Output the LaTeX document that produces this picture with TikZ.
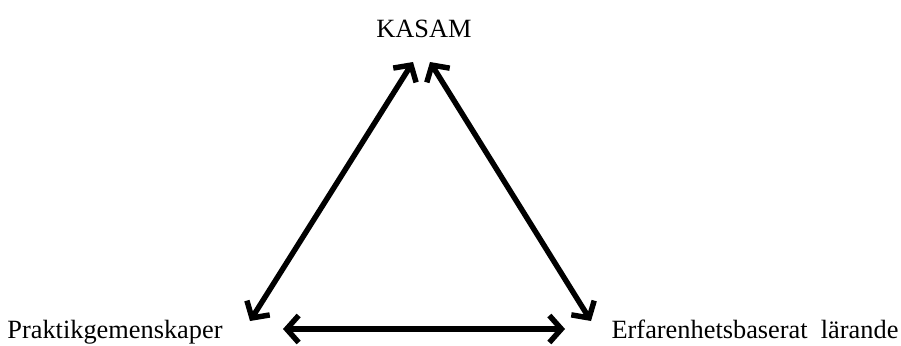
\documentclass[tikz,border=0pt]{standalone}
\usepackage{fontspec}
\setmainfont{Liberation Serif}
\usetikzlibrary{arrows.meta}

\begin{document}
\begin{tikzpicture}[
    x=0.02cm, y=-0.02cm,
    every node/.style={font=\fontsize{15}{18}\selectfont, inner sep=0pt, anchor=base},
    link/.style={{Straight Barb[length=2.4mm, width=5.4mm]}-{Straight Barb[length=2.4mm, width=5.4mm]},
                 line width=3.1pt, line cap=round},
  ]

  % Frame
  \useasboundingbox (0,0) rectangle (901,345);

  % --- Corner labels ---
  \node (kasam) at (424,37) {KASAM};
  \node (prakt) at (115,338) {Praktikgemenskaper};
  \node (erfar) at (755,338) {Erfarenhetsbaserat\ \ lärande};

  % --- Arrow ends ---
  \coordinate (kL) at (413,62);
  \coordinate (kR) at (430,62);
  \coordinate (pT) at (250,321);
  \coordinate (pR) at (283,329);
  \coordinate (eT) at (591,321);
  \coordinate (eL) at (565,329);

  % --- Links ---
  \draw[link] (kL) -- (pT);
  \draw[link] (kR) -- (eT);
  \draw[link] (pR) -- (eL);

\end{tikzpicture}
\end{document}
